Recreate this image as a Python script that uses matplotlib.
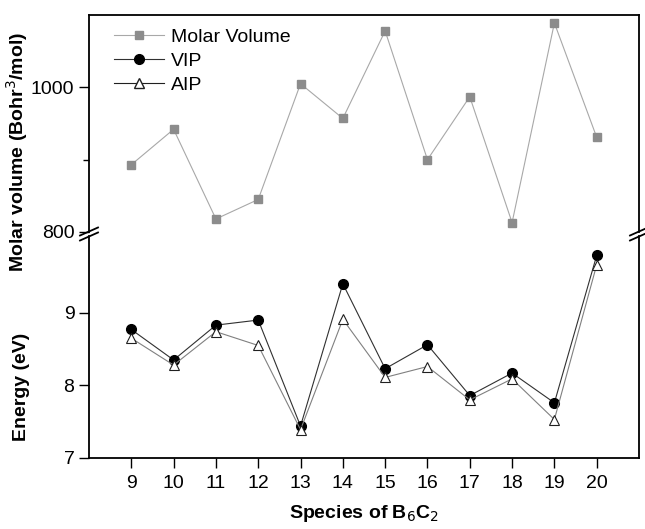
import matplotlib.pyplot as plt
from matplotlib.lines import Line2D

plt.rcParams['font.family'] = ['Liberation Sans', 'DejaVu Sans']

species = [9, 10, 11, 12, 13, 14, 15, 16, 17, 18, 19, 20]
molar_volume = [893, 942, 818, 845, 1005, 957, 1078, 900, 987, 813, 1089, 931]
vip = [8.77, 8.35, 8.83, 8.90, 7.44, 9.40, 8.23, 8.56, 7.86, 8.17, 7.76, 9.79]
aip = [8.65, 8.28, 8.74, 8.55, 7.39, 8.91, 8.11, 8.26, 7.80, 8.09, 7.53, 9.66]

W, H = 645, 529
fig = plt.figure(figsize=(W / 100, H / 100), dpi=100)

left, right = 89 / W, 639 / W
top_y, brk_hi, brk_lo, bot_y = 15, 232, 236, 458
ax_top = fig.add_axes([left, 1 - brk_hi / H, right - left, (brk_hi - top_y) / H])
ax_bot = fig.add_axes([left, 1 - bot_y / H, right - left, (bot_y - brk_lo) / H])

# upper part: molar volume
ax_top.plot(species, molar_volume, color='#a8a8a8', lw=0.8, marker='s', ms=6,
            mfc='#8c8c8c', mec='#8c8c8c', label='Molar Volume')
ax_top.set_xlim(8, 21)
ax_top.set_ylim(800, 1100)
ax_top.set_yticks([800, 1000])
ax_top.set_yticks([900], minor=True)
ax_top.spines['bottom'].set_visible(False)
ax_top.tick_params(axis='x', which='both', bottom=False, labelbottom=False)
ax_top.tick_params(axis='y', which='major', direction='out', length=7, width=1, labelsize=14)
ax_top.tick_params(axis='y', which='minor', direction='out', length=4, width=1)
ax_top.set_ylabel('Molar volume (Bohr$^3$/mol)', fontsize=14, fontweight='bold')
ax_top.yaxis.set_label_coords(-0.107, 0.37)

# lower part: ionisation potentials
ax_bot.plot(species, vip, color='#303030', lw=0.8, marker='o', ms=7,
            mfc='black', mec='black')
ax_bot.plot(species, aip, color='#808080', lw=0.8, marker='^', ms=7,
            mfc='white', mec='#202020', mew=0.8)
ax_bot.set_xlim(8, 21)
ax_bot.set_ylim(7, 7 + (bot_y - brk_lo) / 72.6)
ax_bot.set_yticks([7, 8, 9])
ax_bot.set_xticks(species)
ax_bot.spines['top'].set_visible(False)
ax_bot.tick_params(direction='out', length=7, width=1, labelsize=14)
ax_bot.tick_params(axis='x', pad=5)
ax_bot.set_ylabel('Energy (eV)', fontsize=14, fontweight='bold')
ax_bot.yaxis.set_label_coords(-0.107, 0.32)
ax_bot.set_xlabel('Species of B$_6$C$_2$', fontsize=14, fontweight='bold', labelpad=8)

for ax in (ax_top, ax_bot):
    for s in ax.spines.values():
        s.set_linewidth(1.3)

# break marks on both side spines
for xs in (89, 639):
    for dy in (-2.5, 2.5):
        y0 = (brk_hi + brk_lo) / 2 + dy
        fig.add_artist(Line2D([(xs - 9) / W, (xs + 9) / W],
                              [1 - (y0 + 4) / H, 1 - (y0 - 4) / H],
                              color='black', lw=1.3))

legend_elements = [
    Line2D([0], [0], color='#a8a8a8', lw=0.8, marker='s', ms=6,
           mfc='#8c8c8c', mec='#8c8c8c', label='Molar Volume'),
    Line2D([0], [0], color='#303030', lw=0.8, marker='o', ms=7,
           mfc='black', mec='black', label='VIP'),
    Line2D([0], [0], color='#202020', lw=0.8, marker='^', ms=7,
           mfc='white', mec='#202020', label='AIP'),
]
ax_top.legend(handles=legend_elements, loc='upper left', frameon=False,
              fontsize=14, handlelength=2.6, handletextpad=0.35,
              labelspacing=0.32, borderaxespad=0.3, bbox_to_anchor=(0.02, 1.0))

fig.savefig('out.png', dpi=100)
